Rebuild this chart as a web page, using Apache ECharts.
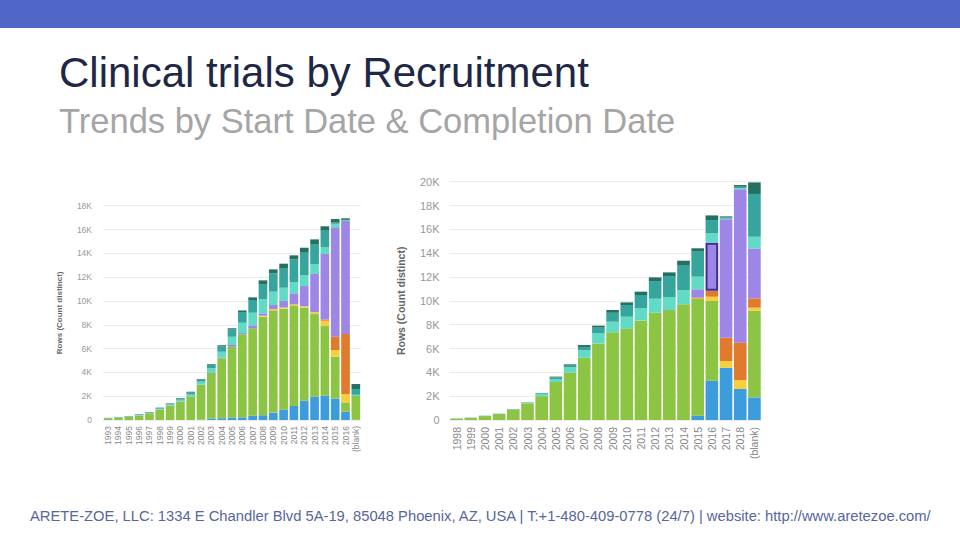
<!DOCTYPE html>
<html>
<head>
<meta charset="utf-8">
<script src="https://cdn.jsdelivr.net/npm/echarts@6/dist/echarts.min.js"></script>
<style>
html,body{margin:0;padding:0;background:#fff;}
#c{width:960px;height:540px;}
</style>
</head>
<body>
<div id="c"></div>
<script>
// ---------- Data: left chart (by Start Date) ----------
const startYears = ['1993','1994','1995','1996','1997','1998','1999','2000','2001','2002','2003','2004','2005','2006','2007','2008','2009','2010','2011','2012','2013','2014','2015','2016','(blank)'];
const startBlue   = [0,0,0,0,0,0,0,0,0,30,100,140,200,220,360,400,620,870,1180,1620,1960,2040,1800,700,20];
const startGreen  = [140,200,270,380,570,880,1220,1550,1950,2940,3850,5040,5960,6970,7340,8280,8590,8480,8390,7810,6940,5850,3520,780,2000];
const startYellow = [0,0,0,0,0,0,0,0,0,0,0,0,0,0,0,80,100,100,130,120,150,450,560,700,0];
const startOrange = [0,0,0,0,0,0,0,0,0,0,0,0,0,0,0,0,0,0,0,0,0,100,1120,5040,0];
const startPurple = [0,0,0,0,0,0,0,0,0,0,50,70,140,110,250,200,350,550,940,1700,3210,5500,9180,9490,0];
const startAqua   = [10,20,20,40,40,70,80,150,200,250,340,490,700,870,1060,1170,1120,1110,950,930,840,560,300,50,100];
const startTeal   = [20,20,30,50,50,70,70,100,150,170,280,460,610,900,1070,1290,1540,1600,1900,1870,1680,1400,100,50,480];
const startDark   = [10,10,10,10,10,20,30,50,80,50,60,70,90,130,220,310,330,420,340,420,390,370,300,130,420];

// ---------- Data: right chart (by Completion Date) ----------
const compYears = ['1998','1999','2000','2001','2002','2003','2004','2005','2006','2007','2008','2009','2010','2011','2012','2013','2014','2015','2016','2017','2018','(blank)'];
const compBlue   = [0,0,0,0,0,0,0,0,0,0,0,0,0,0,0,0,0,360,3300,4390,2600,1900];
const compGreen  = [120,170,330,500,870,1400,2000,3190,3970,5230,6430,7360,7690,8340,9000,9230,9710,9790,6690,0,0,7270];
const compYellow = [0,0,0,0,0,0,0,0,0,0,0,0,0,0,0,0,0,50,360,560,760,260];
const compOrange = [0,0,0,0,0,0,0,0,0,0,0,0,0,0,0,0,0,70,500,1950,3130,780];
const compPurple = [0,0,0,0,0,0,0,0,0,0,0,0,0,0,0,0,0,700,4030,9940,12870,4190];
const compAqua   = [10,10,10,10,20,40,200,250,450,620,840,890,980,1060,1180,1090,1200,1060,780,60,100,980];
const compTeal   = [10,20,20,20,30,40,50,140,140,280,480,750,980,1090,1480,1760,2040,2100,1120,100,120,3590];
const compDark   = [0,0,0,0,0,0,20,60,110,160,170,230,220,280,310,310,420,280,390,90,140,970];

const yTicksLeftMax = 18000, yTicksRightMax = 20000, yTickStep = 2000;
const highlightIndex = 18; // 2016 purple segment outlined in the completion chart

const seriesNames = ['Blue','Green','Yellow','Orange','Purple','Aqua','Teal','Dark'];
const colors = ['#3d9cdb','#8cc443','#f6d03c','#e07a2d','#9d86e5','#61dbc6','#35a59e','#26705f'];

function fmtK(v){ return v === 0 ? '0' : (v/1000) + 'K'; }

function buildSeries(arrays, axisIdx, gap, hlIdx){
  return arrays.map((arr, k) => ({
    name: seriesNames[k] + axisIdx,
    type: 'bar',
    stack: 's' + axisIdx,
    xAxisIndex: axisIdx,
    yAxisIndex: axisIdx,
    barCategoryGap: gap,
    itemStyle: { color: colors[k] },
    silent: true,
    data: arr.map((v, i) => (hlIdx !== undefined && k === 4 && i === hlIdx)
      ? { value: v, itemStyle: { borderColor: '#3b2b9c', borderWidth: 2 } }
      : v)
  }));
}

const chart = echarts.init(document.getElementById('c'), null, { renderer: 'svg' });

const leftGrid  = { left: 103, top: 205.7, width: 258, height: 214.3 };
const rightGrid = { left: 449.5, top: 181.7, width: 312, height: 238.3 };

const option = {
  animation: false,
  backgroundColor: '#ffffff',
  graphic: [
    { type: 'rect', left: 0, top: 0, shape: { width: 960, height: 28 }, style: { fill: '#5067c8' } },
    { type: 'text', x: 59, y: 72, style: { text: 'Clinical trials by Recruitment', font: '42px "Liberation Sans", Arial, sans-serif', fill: '#1e2746', verticalAlign: 'middle' } },
    { type: 'text', x: 59, y: 121, style: { text: 'Trends by Start Date & Completion Date', font: '34.5px "Liberation Sans", Arial, sans-serif', fill: '#a5a5a5', verticalAlign: 'middle' } },
    { type: 'text', x: 30, y: 516, style: { text: 'ARETE-ZOE, LLC: 1334 E Chandler Blvd 5A-19, 85048 Phoenix, AZ, USA | T:+1-480-409-0778 (24/7) | website: http://www.aretezoe.com/', font: '14.75px "Liberation Sans", Arial, sans-serif', fill: '#56679b', verticalAlign: 'middle' } }
  ],
  grid: [
    Object.assign({ containLabel: false }, leftGrid),
    Object.assign({ containLabel: false }, rightGrid)
  ],
  xAxis: [
    { type: 'category', gridIndex: 0, data: startYears,
      axisLine: { show: false }, axisTick: { show: false },
      axisLabel: { rotate: 90, fontSize: 8.5, color: '#888', margin: 6, interval: 0, fontFamily: 'Liberation Sans' } },
    { type: 'category', gridIndex: 1, data: compYears,
      axisLine: { show: false }, axisTick: { show: false },
      axisLabel: { rotate: 90, fontSize: 10.5, color: '#888', margin: 7, interval: 0, fontFamily: 'Liberation Sans' } }
  ],
  yAxis: [
    { type: 'value', gridIndex: 0, min: 0, max: yTicksLeftMax, interval: yTickStep,
      name: 'Rows (Count distinct)', nameLocation: 'middle', nameGap: 40,
      nameTextStyle: { fontSize: 8, fontWeight: 'bold', color: '#666', fontFamily: 'Liberation Sans' },
      axisLine: { show: false }, axisTick: { show: false },
      splitLine: { lineStyle: { color: '#ececec', width: 1 } },
      axisLabel: { formatter: fmtK, fontSize: 8.5, color: '#999', margin: 11, fontFamily: 'Liberation Sans' } },
    { type: 'value', gridIndex: 1, min: 0, max: yTicksRightMax, interval: yTickStep,
      name: 'Rows (Count distinct)', nameLocation: 'middle', nameGap: 43,
      nameTextStyle: { fontSize: 10.5, fontWeight: 'bold', color: '#666', fontFamily: 'Liberation Sans' },
      axisLine: { show: false }, axisTick: { show: false },
      splitLine: { lineStyle: { color: '#ececec', width: 1 } },
      axisLabel: { formatter: fmtK, fontSize: 11, color: '#999', margin: 10, fontFamily: 'Liberation Sans' } }
  ],
  series: [].concat(
    buildSeries([startBlue, startGreen, startYellow, startOrange, startPurple, startAqua, startTeal, startDark], 0, '16%'),
    buildSeries([compBlue, compGreen, compYellow, compOrange, compPurple, compAqua, compTeal, compDark], 1, '11%', highlightIndex)
  )
};
chart.setOption(option);
</script>
</body>
</html>
